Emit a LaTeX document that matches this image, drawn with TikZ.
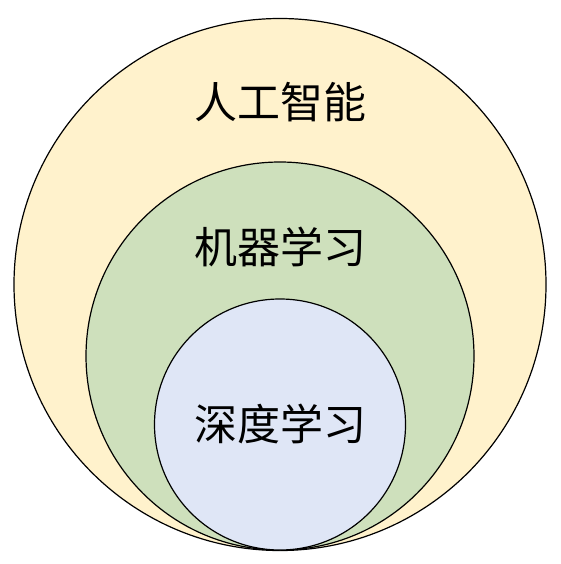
\documentclass[tikz,border=0pt]{standalone}
\usepackage{fontspec}
\newfontfamily\cjk{Noto Sans CJK SC}
\definecolor{aiyellow}{HTML}{FFF2CC}
\definecolor{mlgreen}{HTML}{CEE0BC}
\definecolor{dlblue}{HTML}{DFE6F6}
\begin{document}
\begin{tikzpicture}[x=1pt,y=-1pt,
  ring/.style={draw=black,line width=1.2pt},
  lbl/.style={font=\cjk\fontsize{43}{50}\selectfont,inner sep=0pt}]
\useasboundingbox (0,0) rectangle (560,564);
\node[ring,fill=aiyellow,circle,minimum size=532pt,inner sep=0pt] (ai) at (280,284.5) {};
\node[ring,fill=mlgreen,circle,minimum size=388pt,inner sep=0pt] (ml) at (280,356) {};
\node[ring,fill=dlblue,circle,minimum size=251pt,inner sep=0pt] (dl) at (280,424.5) {};
\node[lbl] (tai) at (280,102) {人工智能};
\node[lbl] (tml) at (280,247) {机器学习};
\node[lbl] (tdl) at (280,424) {深度学习};
\end{tikzpicture}
\end{document}
